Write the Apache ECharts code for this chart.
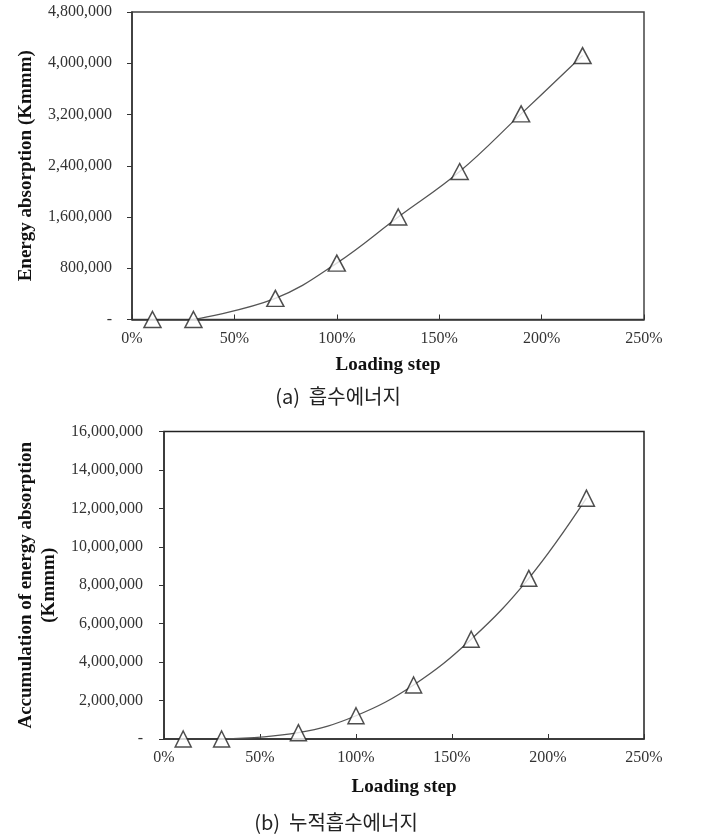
<!DOCTYPE html>
<html>
<head>
<meta charset="utf-8">
<script src="https://cdn.jsdelivr.net/npm/echarts@6/dist/echarts.min.js"></script>
<style>
  html, body { margin: 0; padding: 0; background: #fff; }
  #chart { width: 716px; height: 836px; }
</style>
</head>
<body>
<div id="chart"></div>
<script>
const SERIF = '"Liberation Serif", "DejaVu Serif", serif'
const KR = '"Noto Sans CJK KR", sans-serif'

// loading step (%)
const steps = [10, 30, 70, 100, 130, 160, 190, 220]
// (a) energy absorption per step (Kmmm)
const energy = [0, 0, 330000, 880000, 1600000, 2310000, 3210000, 4120000]
// (b) accumulated energy absorption (Kmmm)
const accum = [0, 0, 330000, 1210000, 2810000, 5190000, 8360000, 12530000]

const xTicks = [0, 50, 100, 150, 200, 250]
const captions = ['(a)  흡수에너지', '(b)  누적흡수에너지']

const chart = echarts.init(document.getElementById('chart'))

const pairs = (ys) => steps.map((x, i) => [x, ys[i]])

const fmtY = (v) => (v === 0 ? '-' : v.toLocaleString('en-US'))

const xAxisOf = (gi, gap) => ({
  type: 'value',
  gridIndex: gi,
  min: xTicks[0],
  max: xTicks[xTicks.length - 1],
  interval: xTicks[1] - xTicks[0],
  name: 'Loading step',
  nameLocation: 'middle',
  nameGap: gap,
  nameTextStyle: { fontFamily: SERIF, fontSize: 19, fontWeight: 'bold', color: '#111' },
  axisLine: { show: true, lineStyle: { color: '#333', width: 1.5 } },
  axisTick: { show: true, inside: true, length: 5, lineStyle: { color: '#333' } },
  axisLabel: { fontFamily: SERIF, fontSize: 16, color: '#333', margin: 11, formatter: (v) => v + '%' },
  splitLine: { show: false },
})

const yAxisOf = (gi, max, interval, name, gap, margin) => ({
  type: 'value',
  gridIndex: gi,
  min: 0,
  max: max,
  interval: interval,
  name: name,
  nameLocation: 'middle',
  nameGap: gap,
  nameTextStyle: { fontFamily: SERIF, fontSize: 19, fontWeight: 'bold', color: '#111', lineHeight: 23 },
  axisLine: { show: true, lineStyle: { color: '#333', width: 1.5 } },
  axisTick: { show: true, inside: false, length: 5, lineStyle: { color: '#333' } },
  axisLabel: { fontFamily: SERIF, fontSize: 16, color: '#333', margin: margin, formatter: fmtY },
  splitLine: { show: false },
})

const curve = (gi, ys) => ({
  type: 'line',
  xAxisIndex: gi,
  yAxisIndex: gi,
  data: pairs(ys).slice(1), // the 10% point stands alone
  smooth: 0.4,
  showSymbol: false,
  lineStyle: { color: '#555', width: 1.3 },
  z: 2,
})

const marks = (gi, ys, size) => ({
  type: 'scatter',
  xAxisIndex: gi,
  yAxisIndex: gi,
  data: pairs(ys),
  symbol: 'triangle',
  symbolSize: size,
  itemStyle: { color: '#fff', borderColor: '#222', borderWidth: 1.5 },
  z: 3,
})

chart.setOption({
  animation: false,
  backgroundColor: '#fff',
  grid: [
    { left: 132, width: 512, top: 12, height: 307.5, show: true, borderColor: '#444', borderWidth: 1.5 },
    { left: 164, width: 480, top: 431.5, height: 307.5, show: true, borderColor: '#222', borderWidth: 1.5 },
  ],
  xAxis: [xAxisOf(0, 36), xAxisOf(1, 39)],
  yAxis: [
    yAxisOf(0, 4800000, 800000, 'Energy absorption (Kmmm)', 86, 20),
    yAxisOf(1, 16000000, 2000000, 'Accumulation of energy absorption\n(Kmmm)', 91, 21),
  ],
  series: [curve(0, energy), marks(0, energy, [17, 16]), curve(1, accum), marks(1, accum, [16, 16])],
  graphic: [
    {
      type: 'text',
      x: 338,
      y: 396,
      style: { text: captions[0], font: '20px ' + KR, fill: '#222', align: 'center', verticalAlign: 'middle' },
    },
    {
      type: 'text',
      x: 336,
      y: 822,
      style: { text: captions[1], font: '20px ' + KR, fill: '#222', align: 'center', verticalAlign: 'middle' },
    },
  ],
})
</script>
</body>
</html>
